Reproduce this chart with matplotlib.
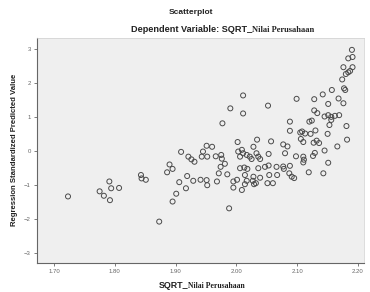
'''SPSS style scatterplot: predicted value vs SQRT_Nilai Perusahaan'''
import matplotlib
matplotlib.use('Agg')
import matplotlib.pyplot as plt

# values
sqrt_nilai = [
    2.190, 2.184, 2.191, 2.176, 2.191, 2.184, 2.187, 2.180, 2.174, 2.177,
    2.179, 2.157, 2.142, 2.168, 2.099, 2.128, 2.151, 2.176, 2.011, 1.990,
    2.052, 2.011, 1.977, 2.128, 2.133, 2.145, 2.151, 2.156, 2.162, 2.169,
    2.156, 2.153, 2.181, 2.088, 2.120, 2.124, 2.088, 2.105, 2.108, 2.113,
    2.122, 2.130, 2.150, 2.106, 2.110, 2.182, 2.132, 2.127, 2.136, 2.166,
    2.145, 2.129, 2.126, 2.077, 2.084, 2.080, 2.098, 2.110, 2.111, 2.110,
    2.151, 2.077, 2.088, 2.078, 2.087, 2.091, 2.095, 2.119, 2.143,
    2.002, 2.034, 2.057, 2.028, 1.951, 1.960, 1.945, 1.943, 1.952, 1.966,
    1.975, 1.976, 2.003, 2.009, 2.011, 2.006, 2.017, 2.022, 2.025, 2.033,
    2.036, 2.039, 2.053, 1.921, 1.926, 1.931, 1.981, 1.974, 1.971, 1.985,
    2.006, 2.013, 2.018, 2.014, 2.036, 2.047, 2.053, 2.066, 2.067, 2.054,
    2.039, 2.028, 1.929, 1.941, 1.951, 1.952, 1.968, 1.995, 2.001, 1.995,
    2.009, 2.017, 2.014, 2.027, 2.029, 2.032, 2.051, 2.060, 1.988,
    1.909, 1.890, 1.895, 1.886, 1.906, 1.919, 1.917, 1.901, 1.895, 1.873,
    1.843, 1.844, 1.851, 1.791, 1.794, 1.807, 1.782, 1.792, 1.775, 1.723,
]
pred_std = [
    2.97, 2.72, 2.76, 2.46, 2.46, 2.31, 2.35, 2.26, 2.10, 1.84,
    1.79, 1.79, 1.66, 1.54, 1.53, 1.52, 1.38, 1.40, 1.63, 1.25,
    1.33, 1.10, 0.81, 1.19, 1.11, 1.01, 1.05, 1.00, 1.03, 1.05,
    0.91, 0.76, 0.73, 0.86, 0.86, 0.89, 0.59, 0.54, 0.57, 0.51,
    0.50, 0.60, 0.50, 0.35, 0.26, 0.33, 0.30, 0.24, 0.23, 0.13,
    0.01, -0.06, -0.15, 0.19, 0.13, -0.07, -0.16, -0.17, -0.26, -0.34,
    -0.35, -0.46, -0.44, -0.53, -0.66, -0.76, -0.80, -0.63, -0.66,
    0.26, 0.33, 0.28, 0.12, 0.15, 0.12, -0.02, -0.17, -0.17, -0.16,
    -0.12, -0.23, -0.02, 0.03, -0.07, -0.17, -0.12, -0.17, -0.24, -0.07,
    -0.17, -0.24, -0.09, -0.17, -0.25, -0.32, -0.38, -0.47, -0.66, -0.69,
    -0.51, -0.49, -0.53, -0.71, -0.51, -0.47, -0.43, -0.47, -0.71, -0.71,
    -0.79, -0.76, -0.88, -0.85, -0.86, -1.01, -0.90, -0.90, -0.85, -1.08,
    -1.15, -0.88, -0.98, -0.88, -0.98, -0.95, -0.95, -0.95, -1.69,
    -0.03, -0.40, -0.53, -0.63, -0.92, -0.74, -1.10, -1.26, -1.49, -2.08,
    -0.71, -0.81, -0.85, -0.90, -1.10, -1.09, -1.32, -1.45, -1.19, -1.34,
]
xticks = [1.70, 1.80, 1.90, 2.00, 2.10, 2.20]
yticks = [-3, -2, -1, 0, 1, 2, 3]

SANS = 'Liberation Sans'
SERIF = 'Liberation Serif'

fig = plt.figure(figsize=(3.70, 2.92), dpi=100)
ax = fig.add_axes([0.100, 0.099, 0.884, 0.771])
ax.set_facecolor('#efefef')

ax.scatter(sqrt_nilai, pred_std, s=13, facecolors='none',
           edgecolors='#4a4a4a', linewidths=0.7)

ax.set_xlim(1.672, 2.210)
ax.set_ylim(-3.3, 3.32)
ax.set_xticks(xticks)
ax.set_xticklabels(['%.2f' % t for t in xticks])
ax.set_yticks(yticks)
ax.tick_params(length=2.5, width=0.6, color='#666666', labelsize=4.3,
               labelcolor='#666666', pad=2)
for lab in ax.get_xticklabels() + ax.get_yticklabels():
    lab.set_family(SANS)

for side in ['left', 'bottom']:
    ax.spines[side].set_color('#666666')
    ax.spines[side].set_linewidth(0.8)
for side in ['top', 'right']:
    ax.spines[side].set_color('#cfcfcf')
    ax.spines[side].set_linewidth(0.5)

# titles (mixed fonts like the SPSS output)
fig.text(191 / 370, 1 - 12 / 292, 'Scatterplot', ha='center', va='center',
         family=SANS, fontweight='bold', fontsize=6, color='#222222')
fig.text(252 / 370, 1 - 30 / 292, 'Dependent Variable: SQRT_', ha='right',
         va='center', family=SANS, fontweight='bold', fontsize=6.6,
         color='#222222')
fig.text(252 / 370, 1 - 30.5 / 292, 'Nilai Perusahaan', ha='left',
         va='center', family=SERIF, fontweight='bold', fontsize=6,
         color='#222222')

fig.text(188 / 370, 1 - 285 / 292, 'SQRT_', ha='right', va='center',
         family=SANS, fontweight='bold', fontsize=6.4, color='#222222')
fig.text(188 / 370, 1 - 285.5 / 292, 'Nilai Perusahaan', ha='left',
         va='center', family=SERIF, fontweight='bold', fontsize=5.6,
         color='#222222')

fig.text(15 / 370, 1 - 150 / 292, 'Regression Standardized Predicted Value',
         rotation=90, ha='center', va='center', family=SANS,
         fontweight='bold', fontsize=5.6, color='#222222')

fig.savefig('out.png', dpi=100)
